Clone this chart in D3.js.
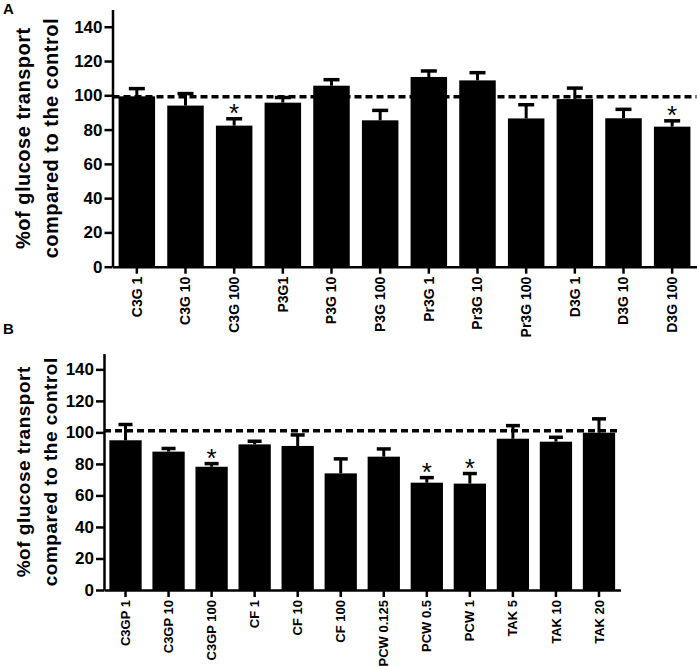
<!DOCTYPE html>
<html>
<head>
<meta charset="utf-8">
<script src="https://cdnjs.cloudflare.com/ajax/libs/d3/7.8.5/d3.min.js"></script>
<style>
body{margin:0;background:#fff;}
text{font-family:Arial,"Liberation Sans",sans-serif;}
</style>
</head>
<body>
<script>
// panel A data
var catsA=["C3G 1","C3G 10","C3G 100","P3G1","P3G 10","P3G 100","Pr3G 1","Pr3G 10","Pr3G 100","D3G 1","D3G 10","D3G 100"];
var valsA=[99.4,94,82.3,95.7,105.6,85.4,110.7,108.7,86.5,97.8,86.6,81.7];
var errsA=[4.5,7,4,3,3.5,5.8,3.5,4.5,8,6.4,5.2,3.4];
var starsA=["C3G 100","D3G 100"];
var controlA=99.2;

// panel B data
var catsB=["C3GP 1","C3GP 10","C3GP 100","CF 1","CF 10","CF 100","PCW 0.125","PCW 0.5","PCW 1","TAK 5","TAK 10","TAK 20"];
var valsB=[95,87.8,78.2,92.4,91.4,74,84.6,68.1,67.5,96,94.1,99.8];
var errsB=[10,2,2,2,7,9.2,4.9,3.2,6.4,8.3,2.8,8.8];
var starsB=["C3GP 100","PCW 0.5","PCW 1"];
var controlB=101.1;

var yTicks=[0,20,40,60,80,100,120,140];
var yLabel=["%of glucose transport","compared to the control"];

var svg=d3.select("body").append("svg")
	.attr("width",697)
	.attr("height",666);

function drawPanel(p)
{
	var g=svg.append("g");

	var x=d3.scaleBand()
		.domain(p.cats)
		.range([p.left,p.right])
		.paddingInner(0.25)
		.paddingOuter(0.125);

	var y=d3.scaleLinear()
		.domain([0,150])
		.range([p.bottom,p.top]);

	// bars
	g.selectAll(".bar")
		.data(p.cats)
		.enter().append("rect")
		.attr("x",function(d){return x(d);})
		.attr("width",x.bandwidth())
		.attr("y",function(d,i){return y(p.vals[i]);})
		.attr("height",function(d,i){return y(0)-y(p.vals[i]);})
		.attr("fill","#000");

	// error bars, upper only
	g.selectAll(".err")
		.data(p.cats)
		.enter().append("line")
		.attr("x1",function(d){return x(d)+x.bandwidth()/2;})
		.attr("x2",function(d){return x(d)+x.bandwidth()/2;})
		.attr("y1",function(d,i){return y(p.vals[i]);})
		.attr("y2",function(d,i){return y(p.vals[i]+p.errs[i]);})
		.attr("stroke","#000")
		.attr("stroke-width",3);

	g.selectAll(".cap")
		.data(p.cats)
		.enter().append("line")
		.attr("x1",function(d){return x(d)+x.bandwidth()/2-p.cap/2;})
		.attr("x2",function(d){return x(d)+x.bandwidth()/2+p.cap/2;})
		.attr("y1",function(d,i){return y(p.vals[i]+p.errs[i]);})
		.attr("y2",function(d,i){return y(p.vals[i]+p.errs[i]);})
		.attr("stroke","#000")
		.attr("stroke-width",3.5);

	// control level
	g.append("line")
		.attr("x1",p.left)
		.attr("x2",p.right)
		.attr("y1",y(p.control))
		.attr("y2",y(p.control))
		.attr("stroke","#000")
		.attr("stroke-width",3.5)
		.attr("stroke-dasharray","7,4");

	// significance stars
	g.selectAll(".star")
		.data(p.stars)
		.enter().append("text")
		.attr("x",function(d){return x(d)+x.bandwidth()/2;})
		.attr("y",function(d){
			var i=p.cats.indexOf(d);
			return y(p.vals[i]+p.errs[i])-12+15;
		})
		.attr("text-anchor","middle")
		.style("font-size","26px")
		.text("*");

	// axes
	var ya=g.append("g")
		.attr("transform","translate("+p.left+",0)")
		.call(d3.axisLeft(y).tickValues(yTicks).tickSize(8).tickSizeOuter(0).tickPadding(2));
	ya.selectAll("text")
		.style("font-size","17px")
		.style("font-weight","bold")
		.attr("fill","#000");

	var xa=g.append("g")
		.attr("transform","translate(0,"+p.bottom+")")
		.call(d3.axisBottom(x).tickSize(7).tickSizeOuter(0));
	xa.selectAll("text")
		.attr("transform","rotate(-90)")
		.attr("x",-10)
		.attr("y",0)
		.attr("dy","0.35em")
		.style("text-anchor","end")
		.style("font-size",p.catSize+"px")
		.style("font-weight","bold")
		.attr("fill","#000");

	svg.selectAll(".domain").attr("stroke-width",2.5).attr("stroke","#000");
	g.selectAll(".tick line").attr("stroke-width",2.5).attr("stroke","#000");

	// axis title
	var cy=(p.top+p.bottom)/2;
	yLabel.forEach(function(t,i){
		g.append("text")
			.attr("transform","translate("+p.labelX[i]+","+cy+") rotate(-90)")
			.attr("text-anchor","middle")
			.style("font-size",p.labelSize+"px")
			.style("font-weight","bold")
			.style("letter-spacing","0.5px")
			.text(t);
	});

	// panel letter
	g.append("text")
		.attr("x",p.letterPos[0])
		.attr("y",p.letterPos[1])
		.style("font-size","15px")
		.style("font-weight","bold")
		.text(p.letter);
}

drawPanel({
	cats:catsA,vals:valsA,errs:errsA,stars:starsA,control:controlA,
	left:112.5,right:696.5,top:9.6,bottom:266.7,cap:16,catSize:14,
	labelX:[29.5,57.5],labelSize:20,letter:"A",letterPos:[3,14]
});

drawPanel({
	cats:catsB,vals:valsB,errs:errsB,stars:starsB,control:controlB,
	left:104,right:620.5,top:353.6,bottom:590,cap:14,catSize:13,
	labelX:[30,57],labelSize:19,letter:"B",letterPos:[3,334]
});
</script>
</body>
</html>
